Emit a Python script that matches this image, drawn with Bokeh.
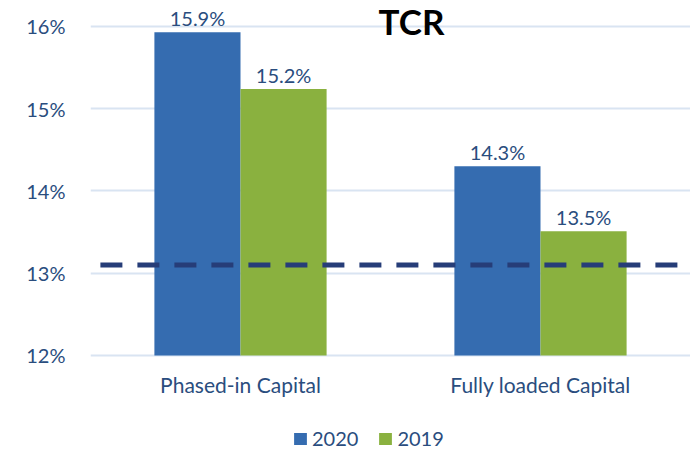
from bokeh.plotting import figure
from bokeh.models import (ColumnDataSource, FactorRange, Range1d, FixedTicker,
                          Legend, LegendItem, Label, PrintfTickFormatter)
from bokeh.transform import dodge
from bokeh.core.properties import value
from bokeh.embed import file_html
from bokeh.resources import INLINE

# ---- data ----
categories = ["Phased-in Capital", "Fully loaded Capital"]
series_names = ["2020", "2019"]
values_2020 = [15.93, 14.30]
values_2019 = [15.24, 13.51]
threshold = [13.1]
y_ticks = [12, 13, 14, 15, 16]
title_text = "TCR"

FONT = "Lato"
TEXT_COLOR = "#2a4d7e"
BLUE = "#356cb0"
GREEN = "#8ab13f"
DASH = "#263d78"

base = y_ticks[0]
y_min, y_max = 10.845, 16.316

src = ColumnDataSource(dict(
    cat=categories,
    base=[base] * len(categories),
    v2020=values_2020,
    v2019=values_2019,
    lab2020=[f"{v:.1f}%" for v in values_2020],
    lab2019=[f"{v:.1f}%" for v in values_2019],
))

p = figure(x_range=FactorRange(*categories), y_range=Range1d(y_min, y_max),
           width=690, height=450, output_backend="svg", toolbar_location=None,
           min_border_left=90, min_border_right=0, min_border_top=0,
           min_border_bottom=0)
p.outline_line_color = None
p.background_fill_color = "white"
p.border_fill_color = "white"

bw = 0.287
r1 = p.vbar(x=dodge("cat", -bw / 2, range=p.x_range), top="v2020", bottom="base",
            width=bw, source=src, fill_color=BLUE, line_color=None)
r2 = p.vbar(x=dodge("cat", bw / 2, range=p.x_range), top="v2019", bottom="base",
            width=bw, source=src, fill_color=GREEN, line_color=None)

for off, col in ((-bw / 2, "2020"), (bw / 2, "2019")):
    p.text(x=dodge("cat", off, range=p.x_range), y="v" + col, text="lab" + col, source=src,
           text_align="center", text_baseline="middle", y_offset=-14,
           text_font=value(FONT), text_font_size="20px", text_color=TEXT_COLOR)

# category labels under the baseline
p.text(x="cat", y="base", text="cat", source=src, text_align="center",
       text_baseline="middle", y_offset=29, text_font=value(FONT),
       text_font_size="21px", text_color=TEXT_COLOR)

# threshold dashed line
tsrc = ColumnDataSource(dict(c0=[categories[0]], c1=[categories[-1]], y=threshold))
p.segment(x0=dodge("c0", -0.467, range=p.x_range), x1=dodge("c1", 0.473, range=p.x_range),
          y0="y", y1="y", source=tsrc, line_color=DASH, line_width=5, line_dash="22 15")

# axes
p.xaxis.visible = False
p.xgrid.grid_line_color = None
p.ygrid.ticker = FixedTicker(ticks=y_ticks)
p.ygrid.grid_line_color = "#d9e4f2"
p.ygrid.grid_line_width = 2

p.yaxis.ticker = FixedTicker(ticks=y_ticks)
p.yaxis.formatter = PrintfTickFormatter(format="%d%%")
ax = p.yaxis[0]
ax.axis_line_color = None
ax.major_tick_line_color = None
ax.minor_tick_line_color = None
ax.major_label_text_color = TEXT_COLOR
ax.major_label_text_font = FONT
ax.major_label_text_font_size = "20px"
ax.major_label_standoff = 19

# title
p.add_layout(Label(x=1.07, y=16.07, text=title_text, text_font=FONT,
                   text_font_size="35px", text_font_style="bold", text_color="black",
                   text_align="center", text_baseline="middle"))

legend = Legend(items=[LegendItem(label=series_names[0], renderers=[r1]),
                       LegendItem(label=series_names[1], renderers=[r2])],
                orientation="horizontal", location=(202, 0),
                glyph_width=16, glyph_height=15, label_standoff=4, spacing=19,
                padding=0, margin=0, border_line_color=None, background_fill_alpha=0,
                label_text_font=FONT, label_text_font_size="20px",
                label_text_color=TEXT_COLOR)
p.add_layout(legend, "center")

open("out.html", "w").write(file_html(p, INLINE))
